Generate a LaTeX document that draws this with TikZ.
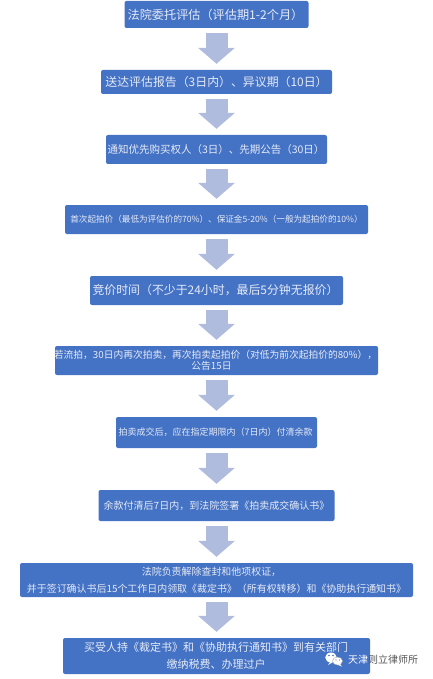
\documentclass[tikz,border=0pt]{standalone}
\usepackage{fontspec}
\setmainfont{Noto Sans CJK SC}
\usepackage{xcolor}
\usetikzlibrary{arrows.meta}
\definecolor{boxblue}{HTML}{4472C4}
\definecolor{arrowblue}{HTML}{B0BCDD}
\definecolor{boxtext}{HTML}{E6EBF7}
\definecolor{markgray}{HTML}{555555}

\begin{document}
\begin{tikzpicture}[x=1pt,y=-1pt,
    stepbox/.style 2 args={fill=boxblue,rounded corners=2pt,inner sep=0pt,align=center,
        text=boxtext,text width=#1,minimum height=#2},
    flowarrow/.style={-{Triangle[length=16pt,width=36pt]},arrowblue,line width=22pt,
        shorten <=5pt,shorten >=6pt}]
\useasboundingbox (0,0) rectangle (432,679);

% Riquadri
\node[stepbox={184pt}{27pt},font=\fontsize{12.15}{14}\selectfont] (court) at (216.5,14.5)
    {\hspace*{-2pt}法院委托评估（评估期1-2个月）};
\node[stepbox={231pt}{24pt},font=\fontsize{11.9}{14}\selectfont] (report) at (216.5,82)
    {\raisebox{2pt}{送达评估报告（3日内）、异议期（10日）}};
\node[stepbox={221pt}{29pt},font=\fontsize{10.5}{13}\selectfont] (notice) at (216.5,149.5)
    {\hspace*{-1pt}\raisebox{1pt}{通知优先购买权人（3日）、先期公告（30日）}};
\node[stepbox={303pt}{29pt},font=\fontsize{8.6}{11}\selectfont] (price) at (216.5,219.5)
    {首次起拍价（最低为评估价的70\%）、保证金5-20\%（一般为起拍价的10\%）};
\node[stepbox={253pt}{29pt},font=\fontsize{11.9}{14}\selectfont] (bidding) at (216.5,290.5)
    {\hspace*{-2pt}\raisebox{1pt}{竞价时间（不少于24小时，最后5分钟无报价）}};
\node[stepbox={323pt}{29pt},font=\fontsize{9.75}{12}\selectfont] (again) at (216.5,360.5)
    {\hspace*{-2pt}若流拍，30日内再次拍卖，再次拍卖起拍价（对低为前次起拍价的80\%），\\[-0.5pt]
     \hspace*{-10pt}公告15日};
\node[stepbox={201pt}{31pt},font=\fontsize{9}{12}\selectfont] (payment) at (216.5,432.5)
    {\hspace*{-2pt}\raisebox{1pt}{拍卖成交后，应在指定期限内（7日内）付清余款}};
\node[stepbox={236pt}{31pt},font=\fontsize{10}{12}\selectfont] (confirm) at (216.5,505.5)
    {余款付清后7日内，到法院签署《拍卖成交确认书》};
\node[stepbox={393pt}{34pt},font=\fontsize{9.95}{17}\selectfont] (release) at (216.5,580)
    {\hspace*{-10pt}法院负责解除查封和他项权证，\\
     并于签订确认书后15个工作日内领取《裁定书》（所有权转移）和《协助执行通知书》};
\node[stepbox={307pt}{36pt},font=\fontsize{11}{17}\selectfont] (transfer) at (216.5,656)
    {\hspace*{-1pt}\raisebox{1.5pt}{买受人持《裁定书》和《协助执行通知书》到有关部门}\\
     \hspace*{-1pt}\raisebox{1.5pt}{缴纳税费、办理过户}};

% Frecce
\draw[flowarrow] (court) -- (report);
\draw[flowarrow] (report) -- (notice);
\draw[flowarrow] (notice) -- (price);
\draw[flowarrow] (price) -- (bidding);
\draw[flowarrow] (bidding) -- (again);
\draw[flowarrow] (again) -- (payment);
\draw[flowarrow] (payment) -- (confirm);
\draw[flowarrow] (confirm) -- (release);
\draw[flowarrow] (release) -- (transfer);

% Filigrana
\fill[white] (331,657.5) ellipse (5.8pt and 5pt);
\fill[white] (330,662) -- (328,665) -- (333,662) -- cycle;
\draw[white,fill=white,draw=gray!70] (337.5,661) ellipse (5pt and 4pt);
\fill[white] (340,664) -- (342,666.5) -- (337,664.5) -- cycle;
\fill[boxblue] (329,655.5) circle (0.8pt);
\fill[boxblue] (333,655.5) circle (0.8pt);
\fill[gray] (336,660) circle (0.6pt);
\fill[gray] (339.5,660) circle (0.6pt);
\node[anchor=west,inner sep=0pt,font=\fontsize{10}{12}\selectfont] (mark) at (348,660)
    {\textcolor{white}{天津}\textcolor{markgray}{则立律师所}};
\end{tikzpicture}
\end{document}
